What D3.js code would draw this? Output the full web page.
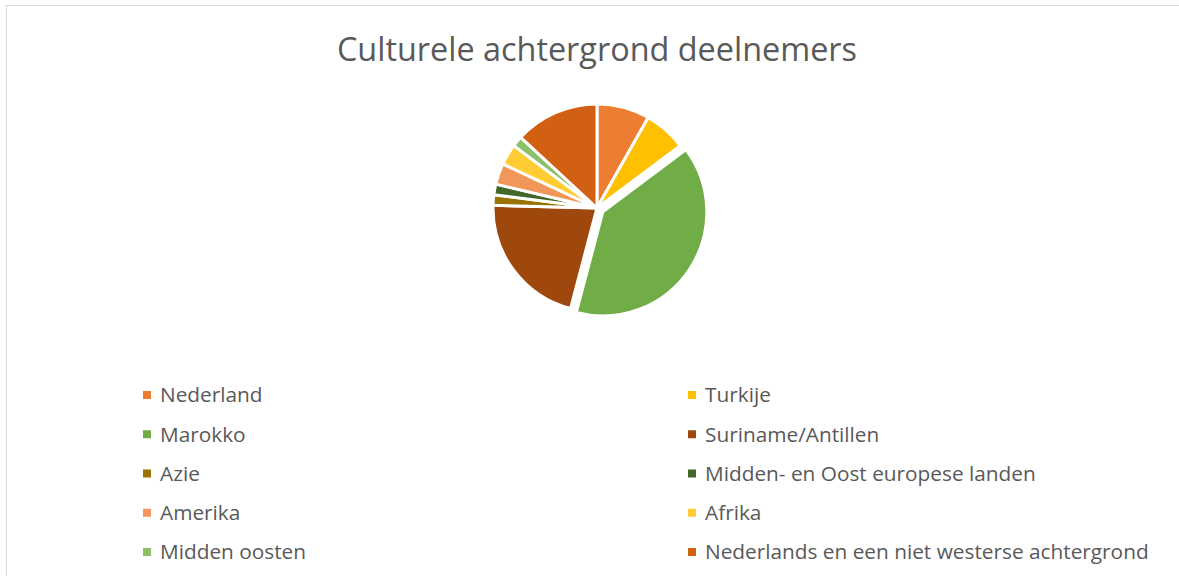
<!DOCTYPE html>
<html>
<head>
<meta charset="utf-8">
<script src="https://cdn.jsdelivr.net/npm/d3@7"></script>
<style>
  html, body { margin: 0; padding: 0; background: #fff; }
  svg text { font-family: "Open Sans", sans-serif; fill: #595959; }
</style>
</head>
<body>
<script>
const categories = ['Nederland', 'Turkije', 'Marokko', 'Suriname/Antillen', 'Azie',
  'Midden- en Oost europese landen', 'Amerika', 'Afrika', 'Midden oosten',
  'Nederlands en een niet westerse achtergrond'];
const values = [5, 4, 24, 13, 1, 1, 2, 2, 1, 8];
const colors = ['#ED7D31', '#FFC000', '#70AD47', '#9E480E', '#997300',
  '#43682B', '#F1975A', '#FFCD33', '#8CC168', '#D26012'];
const exploded = ['Marokko'];

const WIDTH = 1179;
const HEIGHT = 576;
const CX = 597;
const CY = 208;
const RADIUS = 104;
const EXPLODE = 7;

const data = categories.map((c, i) => ({name: c, value: values[i], color: colors[i]}));

const svg = d3.select('body')
  .append('svg')
  .attr('width', WIDTH)
  .attr('height', HEIGHT);

// chart area border (runs off the right and bottom edge)
svg.append('rect')
  .attr('x', 6.5).attr('y', 5.5)
  .attr('width', WIDTH + 20).attr('height', HEIGHT + 20)
  .attr('fill', 'none')
  .attr('stroke', '#D9D9D9')
  .attr('stroke-width', 1);

svg.append('text')
  .attr('x', CX)
  .attr('y', 61)
  .attr('text-anchor', 'middle')
  .style('font-size', '32.4px')
  .text('Culturele achtergrond deelnemers');

const pie = d3.pie().sort(null).value(d => d.value);
const arc = d3.arc().innerRadius(0).outerRadius(RADIUS);

const g = svg.append('g').attr('transform', `translate(${CX}, ${CY})`);

g.selectAll('path.slice')
  .data(pie(data))
  .enter().append('path')
    .classed('slice', true)
    .attr('d', arc)
    .attr('fill', d => d.data.color)
    .attr('stroke', '#fff')
    .attr('stroke-width', 3)
    .attr('stroke-linejoin', 'round')
    .attr('transform', d => {
      if (!exploded.includes(d.data.name)) return null;
      const mid = (d.startAngle + d.endAngle) / 2;
      return `translate(${Math.sin(mid) * EXPLODE}, ${-Math.cos(mid) * EXPLODE})`;
    });

// legend, two columns
const colX = d3.scalePoint().domain([0, 1]).range([143, 688]);
const rowY = d3.scalePoint().domain(d3.range(5)).range([395, 552]);

const item = svg.selectAll('g.legend')
  .data(data)
  .enter().append('g')
    .classed('legend', true)
    .attr('transform', (d, i) => `translate(${colX(i % 2)}, ${rowY(Math.floor(i / 2))})`);

item.append('rect')
  .attr('x', 0).attr('y', -4)
  .attr('width', 8).attr('height', 8)
  .attr('fill', d => d.color);

item.append('text')
  .attr('x', 17)
  .attr('y', 0)
  .attr('dy', '0.35em')
  .style('font-size', '20.8px')
  .text(d => d.name);
</script>
</body>
</html>
